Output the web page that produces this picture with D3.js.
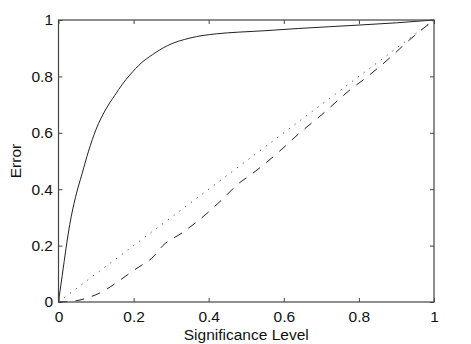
<!DOCTYPE html>
<html>
<head>
<meta charset="utf-8">
<script src="https://cdn.jsdelivr.net/npm/d3@7"></script>
<style>
  html, body { margin: 0; padding: 0; background: #fff; }
  svg { display: block; }
  text { font-family: "Liberation Sans", Arial, sans-serif; fill: #111; }
</style>
</head>
<body>
<svg id="chart" width="471" height="344"></svg>
<script>
// Solid curve
const solidX = [0, 0.01, 0.02, 0.03, 0.045, 0.063, 0.08, 0.1, 0.125, 0.15, 0.17, 0.19, 0.22, 0.25, 0.29, 0.35, 0.42, 0.48, 0.55, 0.64, 0.8, 0.9, 1];
const solidY = [0, 0.095, 0.19, 0.275, 0.37, 0.456, 0.535, 0.612, 0.681, 0.733, 0.772, 0.805, 0.847, 0.877, 0.909, 0.936, 0.951, 0.957, 0.962, 0.970, 0.982, 0.99, 1.0];
// Dashed curve
const dashX = [0, 0.035, 0.06, 0.084, 0.11, 0.129, 0.164, 0.209, 0.252, 0.278, 0.329, 0.364, 0.403, 0.44, 0.475, 0.515, 0.552, 0.589, 0.64, 0.7, 0.739, 0.776, 0.811, 0.851, 0.891, 0.925, 0.963, 1];
const dashY = [0, 0.002, 0.008, 0.018, 0.032, 0.046, 0.078, 0.12, 0.16, 0.2, 0.245, 0.28, 0.323, 0.369, 0.415, 0.454, 0.493, 0.535, 0.597, 0.663, 0.709, 0.752, 0.787, 0.83, 0.876, 0.918, 0.961, 1];
// Dotted diagonal
const dotX = [0, 1];
const dotY = [0, 1];
// Ticks
const xTicks = [0, 0.2, 0.4, 0.6, 0.8, 1];
const yTicks = [0, 0.2, 0.4, 0.6, 0.8, 1];
const xLabel = "Significance Level";
const yLabel = "Error";

const mLeft = 58.5, mRight = 434, mTop = 20, mBottom = 302;
const svg = d3.select("#chart");
const x = d3.scaleLinear().domain([0, 1]).range([mLeft, mRight]);
const y = d3.scaleLinear().domain([0, 1]).range([mBottom, mTop]);
const fmt = d => d === 0 ? "0" : d === 1 ? "1" : String(d);

const line = d3.line().x(d => x(d[0])).y(d => y(d[1])).curve(d3.curveMonotoneX);
const zip = (a, b) => a.map((v, i) => [v, b[i]]);

const plot = svg.append("g");
plot.append("path").datum(zip(dotX, dotY)).attr("d", line)
  .attr("fill", "none").attr("stroke", "#444").attr("stroke-width", 1)
  .attr("stroke-dasharray", "1.2,6");
plot.append("path").datum(zip(dashX, dashY)).attr("d", line)
  .attr("fill", "none").attr("stroke", "#222").attr("stroke-width", 1)
  .attr("stroke-dasharray", "9,8");
plot.append("path").datum(zip(solidX, solidY)).attr("d", line)
  .attr("fill", "none").attr("stroke", "#222").attr("stroke-width", 1);

// Axes
const axStyle = g => {
  g.select(".domain").remove();
  g.selectAll("line").attr("stroke", "#444").attr("stroke-width", 1);
  g.selectAll("text").attr("font-size", 15.5).attr("fill", "#111")
    .attr("font-family", "'Liberation Sans', Arial, sans-serif");
};
svg.append("g").attr("transform", `translate(0,${mBottom})`)
  .call(d3.axisBottom(x).tickValues(xTicks).tickFormat(fmt).tickSizeInner(-4).tickSizeOuter(0).tickPadding(9))
  .call(axStyle);
svg.append("g").attr("transform", `translate(0,${mTop})`)
  .call(d3.axisTop(x).tickValues(xTicks).tickFormat("").tickSizeInner(-4).tickSizeOuter(0))
  .call(axStyle);
svg.append("g").attr("transform", `translate(${mLeft},0)`)
  .call(d3.axisLeft(y).tickValues(yTicks).tickFormat(fmt).tickSizeInner(-4).tickSizeOuter(0).tickPadding(5.5))
  .call(axStyle);
svg.append("g").attr("transform", `translate(${mRight},0)`)
  .call(d3.axisRight(y).tickValues(yTicks).tickFormat("").tickSizeInner(-4).tickSizeOuter(0))
  .call(axStyle);

svg.append("rect").attr("x", mLeft).attr("y", mTop)
  .attr("width", mRight - mLeft).attr("height", mBottom - mTop)
  .attr("fill", "none").attr("stroke", "#444").attr("stroke-width", 1.2);

svg.append("text").attr("x", (mLeft + mRight) / 2).attr("y", 340)
  .attr("text-anchor", "middle").attr("font-size", 15.5).text(xLabel);
svg.append("text").attr("transform", `translate(20.5,${(mTop + mBottom) / 2}) rotate(-90)`)
  .attr("text-anchor", "middle").attr("font-size", 15.5).text(yLabel);
</script>
</body>
</html>
